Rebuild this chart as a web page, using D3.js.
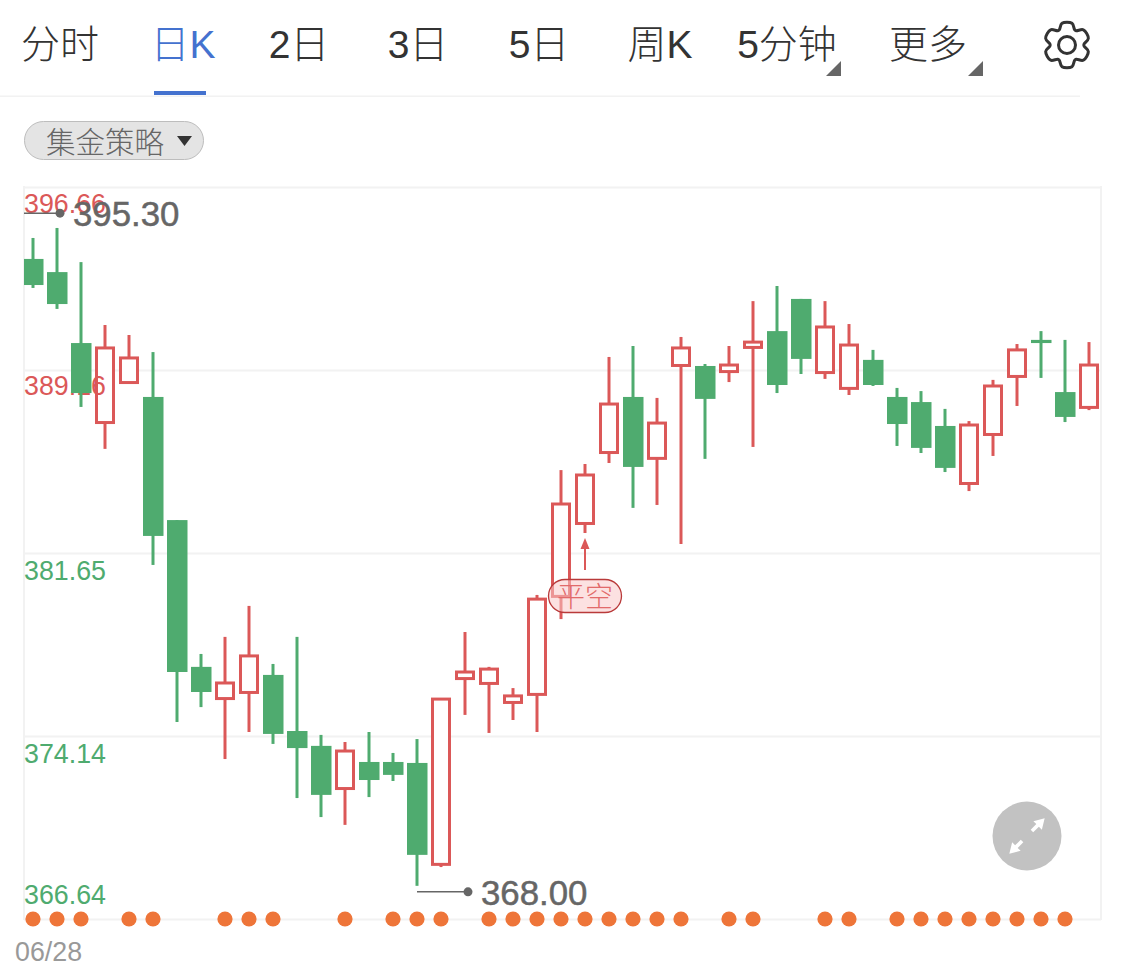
<!DOCTYPE html>
<html><head><meta charset="utf-8">
<script src="https://cdn.jsdelivr.net/npm/d3@7/dist/d3.min.js"></script>
<style>html,body{margin:0;padding:0;background:#fff}svg{display:block}
text{font-family:"Liberation Sans","Noto Sans CJK SC",sans-serif}</style>
</head><body><svg id="c" width="1125" height="971"></svg>
<script>
const tabs = ["分时","日K","2日","3日","5日","周K","5分钟","更多"];
const tickValues = [396.66,389.16,381.65,374.14,366.64];
const dateLabel = "06/28";
const strategy = "集金策略";
const opens  = [393.71,393.17,390.26,386.98,388.62,388.05,383.00,376.98,375.66,375.91,376.65,374.35,373.74,371.97,373.08,373.08,373.04,368.86,376.48,376.28,375.50,375.83,379.85,382.84,385.75,388.05,385.51,389.32,389.32,389.07,390.06,390.75,392.07,389.03,388.38,389.57,388.05,387.84,386.86,384.48,386.49,388.87,390.39,388.25,387.60];
const closes = [392.64,391.86,388.21,390.10,389.69,382.35,376.77,375.95,376.36,377.47,374.23,373.65,371.73,373.57,372.34,372.55,369.27,375.70,376.81,376.93,375.83,379.80,383.70,384.89,387.80,385.18,387.02,390.10,387.97,389.40,390.34,388.54,389.61,390.96,390.22,388.54,386.94,385.96,385.14,386.94,388.54,390.02,390.26,387.23,389.40];
const highs  = [394.57,394.98,393.58,391.00,390.59,389.89,383.00,377.51,378.21,379.48,377.10,378.21,374.19,373.90,374.31,373.45,374.02,375.70,378.41,376.98,376.11,379.93,385.05,385.30,389.69,390.14,388.01,390.51,389.40,390.14,391.98,392.60,392.07,391.98,391.04,389.98,388.42,388.29,387.56,387.06,388.75,390.22,390.75,390.39,390.30];
const lows   = [392.52,391.66,387.64,385.92,388.62,381.16,374.72,375.33,373.20,374.31,373.82,371.60,370.82,370.50,371.64,372.30,368.00,368.77,375.01,374.27,374.80,374.31,378.94,382.47,385.34,383.50,383.62,382.02,385.51,388.66,386.00,388.21,388.99,388.79,388.13,388.50,386.04,385.75,384.97,384.19,385.63,387.68,388.83,387.02,387.51];
const signalIdx = [0,1,2,4,5,8,9,10,13,15,16,17,19,20,21,22,23,24,25,26,27,29,30,33,34,36,37,38,39,40,41,42,43];
const highMark = 395.30, lowMark = 368.00, lowIdx = 16, tradeIdx = 23;

const RED="#db5858", GREEN="#4fab6f", GRID="#f2f2f2", GREY="#666";
const svg=d3.select("#c");
const L=24,R=1101,T=187,B=919;
const x=d3.scaleBand().domain(d3.range(opens.length)).range([21,1101]).paddingInner(1/6).paddingOuter(1/12);
const cx=i=>x(i)+x.bandwidth()/2;
const y=d3.scaleLinear().domain([366.64,396.66]).range([B,T]);
const candles=d3.range(opens.length).map(i=>({i,o:opens[i],c:closes[i],h:highs[i],l:lows[i],up:closes[i]>opens[i]}));

// tabs
const tabX=[60,183,299,418,539,660,787,928];
svg.append("g").selectAll("text").data(tabs).join("text")
 .attr("x",(d,i)=>tabX[i]).attr("y",58).attr("text-anchor","middle").attr("font-weight",300)
 .attr("font-size",39).attr("fill",(d,i)=>i==1?"#4472cf":"#333").text(d=>d);
svg.append("rect").attr("x",154).attr("y",91).attr("width",52).attr("height",4).attr("fill","#4472cf");
svg.append("rect").attr("x",0).attr("y",95.5).attr("width",1080).attr("height",1.5).attr("fill",GRID);
[826,968].forEach(a=>svg.append("path").attr("d",`M${a},76L${a+15},76L${a+15},61Z`).attr("fill","#666"));
// gear
const gear=[];const gc=[1067,45];
for(let k=0;k<6;k++){const a=k*Math.PI/3;
 [[-27,17],[-13,22.3],[13,22.3],[27,17]].forEach(([d,r])=>{const t=a+d*Math.PI/180;gear.push([gc[0]+r*Math.sin(t),gc[1]-r*Math.cos(t)]);});}
svg.append("path").attr("d",d3.line().curve(d3.curveCatmullRomClosed.alpha(0.5))(gear)).attr("fill","none").attr("stroke","#333").attr("stroke-width",3);
svg.append("circle").attr("cx",gc[0]).attr("cy",gc[1]).attr("r",8.5).attr("fill","none").attr("stroke","#333").attr("stroke-width",3);
// pill
svg.append("rect").attr("x",24.5).attr("y",121.5).attr("width",179).attr("height",38).attr("rx",19).attr("fill","#e4e4e4").attr("stroke","#bdbdbd").attr("stroke-width",1);
svg.append("text").attr("x",46).attr("y",153).attr("font-size",29.5).attr("font-weight",300).attr("fill",GREY).text(strategy);
svg.append("path").attr("d","M177,136L192,136L184.5,146Z").attr("fill","#333");

// frame + grid via axis
svg.append("defs").append("clipPath").attr("id","pl").append("rect").attr("x",L).attr("y",T).attr("width",R-L).attr("height",B-T);
const gridG=svg.append("g").attr("transform",`translate(${L},0)`).call(d3.axisRight(y).tickValues(tickValues).tickSize(R-L).tickFormat(""));
gridG.select(".domain").remove();
gridG.selectAll(".tick line").attr("stroke",GRID).attr("stroke-width",2);
svg.append("line").attr("x1",L).attr("x2",L).attr("y1",T-1).attr("y2",B+1).attr("stroke",GRID).attr("stroke-width",2);
svg.append("line").attr("x1",R).attr("x2",R).attr("y1",T-1).attr("y2",B+1).attr("stroke",GRID).attr("stroke-width",2);

function wicks(g,data,col){g.selectAll(null).data(data).join("line")
 .attr("x1",d=>cx(d.i)).attr("x2",d=>cx(d.i)).attr("y1",d=>y(d.h)).attr("y2",d=>y(d.l))
 .attr("stroke",col).attr("stroke-width",3);}
// red hollow candles
const ups=candles.filter(d=>d.up), downs=candles.filter(d=>!d.up);
const plot=svg.append("g").attr("clip-path","url(#pl)");
wicks(plot,ups,RED);
plot.selectAll(null).data(ups).join("rect")
 .attr("x",d=>x(d.i)+1.5).attr("width",x.bandwidth()-3)
 .attr("y",d=>y(d.c)+1).attr("height",d=>Math.max(y(d.o)-y(d.c)-1.5,0.5))
 .attr("fill","#fff").attr("stroke",RED).attr("stroke-width",3);

// y labels above the hollow bodies, under the solid ones
const labelDy=[16,16,17,17,-25];
const ag=svg.append("g").attr("transform",`translate(${L},0)`).call(d3.axisRight(y).tickValues(tickValues).tickSize(0).tickFormat(d3.format(".2f")));
ag.select(".domain").remove();
ag.selectAll(".tick line").remove();
ag.selectAll(".tick text").attr("x",0).attr("dy",0)
 .attr("y",(d,i)=>labelDy[i]).attr("dominant-baseline","central")
 .attr("font-size",26.8).attr("font-family","Liberation Sans")
 .attr("fill",(d,i)=>i<2?RED:GREEN);

const plot2=svg.append("g").attr("clip-path","url(#pl)");
wicks(plot2,downs,GREEN);
plot2.selectAll(null).data(downs).join("rect")
 .attr("x",d=>x(d.i)).attr("width",x.bandwidth()+0.5)
 .attr("y",d=>y(d.o)).attr("height",d=>y(d.c)-y(d.o))
 .attr("fill",GREEN);

// signal dots
svg.append("g").selectAll("circle").data(signalIdx).join("circle")
 .attr("cx",cx).attr("cy",y(366.64)).attr("r",7.6).attr("fill","#ee7539");

// date
svg.append("text").attr("x",15).attr("y",961).attr("font-size",26.8).attr("fill","#999").text(dateLabel);

// high / low annotation
function mark(x0,x1,yy,txt){
 svg.append("line").attr("x1",x0).attr("x2",x1).attr("y1",yy).attr("y2",yy).attr("stroke",GREY).attr("stroke-width",1.5);
 svg.append("circle").attr("cx",x1).attr("cy",yy).attr("r",4.5).attr("fill",GREY);
 svg.append("text").attr("x",x1+13).attr("y",yy+13).attr("font-size",34.8).attr("fill",GREY).attr("stroke",GREY).attr("stroke-width",.5).text(txt);
}
mark(L,60,y(highMark)-7,highMark.toFixed(2));
mark(cx(lowIdx),468,y(lowMark)+6,lowMark.toFixed(2));

// trade signal
const ax=cx(tradeIdx), ay=y(lows[tradeIdx])+5;
svg.append("line").attr("x1",ax).attr("x2",ax).attr("y1",ay+8).attr("y2",ay+32).attr("stroke",RED).attr("stroke-width",2);
svg.append("path").attr("d",`M${ax},${ay}L${ax+4.5},${ay+11}L${ax-4.5},${ay+11}Z`).attr("fill",RED);
svg.append("rect").attr("x",548.5).attr("y",579.5).attr("width",73).attr("height",33).attr("rx",16.5)
 .attr("fill","#f9c9c9").attr("fill-opacity",.55).attr("stroke","#b93a3a").attr("stroke-width",1.3);
svg.append("text").attr("x",585).attr("y",607).attr("text-anchor","middle").attr("font-size",28).attr("font-weight",300).attr("fill","#e26a6a").text("平空");

// expand button
const b=[1027,836];
svg.append("circle").attr("cx",b[0]).attr("cy",b[1]).attr("r",34.5).attr("fill","#c2c2c2");
const bg=svg.append("g").attr("transform",`translate(${b[0]},${b[1]}) rotate(45)`);
bg.append("path").attr("d","M-1.8,-7 L-1.8,-15 L-6,-15 L0,-25 L6,-15 L1.8,-15 L1.8,-7Z").attr("fill","#fff");
bg.append("path").attr("d","M-1.8,7 L-1.8,15 L-6,15 L0,25 L6,15 L1.8,15 L1.8,7Z").attr("fill","#fff");
</script></body></html>
